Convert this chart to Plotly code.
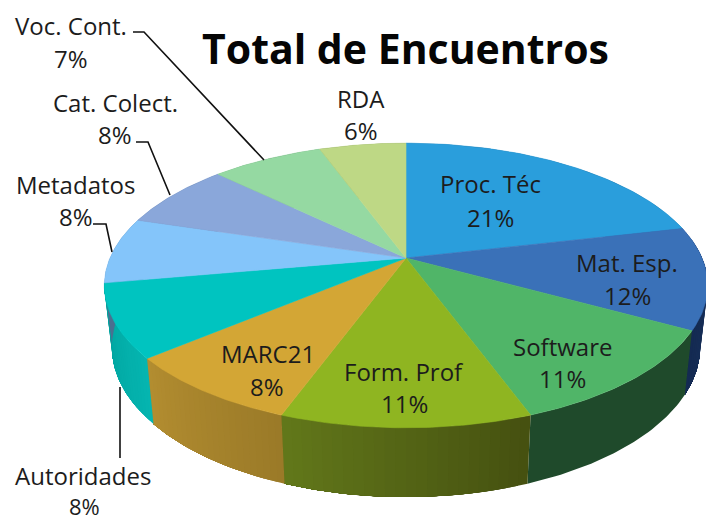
import math
import plotly.graph_objects as go

# ---- data
categories = ["Proc. Téc", "Mat. Esp.", "Software", "Form. Prof", "MARC21",
              "Autoridades", "Metadatos", "Cat. Colect.", "Voc. Cont.", "RDA"]
values = [21.4, 11.6, 11.4, 11.2, 8.3, 8.3, 7.5, 7.5, 7.2, 5.6]
pct_labels = ["21%", "12%", "11%", "11%", "8%", "8%", "8%", "8%", "7%", "6%"]

# ---- style
top_colors = ["#2a9edc", "#3a71b8", "#50b568", "#8fb521", "#d3a635",
              "#00c4c0", "#84c5fa", "#8aa7da", "#95d9a2", "#bed885"]
side_colors = [("#15577f", "#15577f"), ("#1a3560", "#142a52"), ("#1f4a2b", "#1f4a2b"),
               ("#455010", "#62781a"), ("#9b7a28", "#b28d30"),
               ("#05b5b0", "#00a29d"), ("#4a7090", "#4a7090"), ("#4a6080", "#4a6080"),
               ("#507a58", "#507a58"), ("#6a7a45", "#6a7a45")]
text_color = "#1c1c1c"
label_font = "Open Sans"

CX, CY, A, B, P = 406, 258, 296, 137, 0.193
DEPTH, Y_GROW, X_SHRINK = 60, 0.055, 0.975


def top_pt(theta):
    u, v = math.sin(theta), -math.cos(theta)
    w = 1 - P * v
    return CX + A * u / w, CY + B * v / w


def bottom_pt(theta):
    x, y = top_pt(theta)
    return CX + (x - CX) * X_SHRINK, y + DEPTH + Y_GROW * (y - CY)


def lerp_color(c0, c1, t):
    a = [int(c0[i:i + 2], 16) for i in (1, 3, 5)]
    b = [int(c1[i:i + 2], 16) for i in (1, 3, 5)]
    return "rgb(%d,%d,%d)" % tuple(round(p + (q - p) * t) for p, q in zip(a, b))


total = sum(values)
edges = [0.0]
for val in values:
    edges.append(edges[-1] + val / total * 2 * math.pi)

fig = go.Figure()

# sides first; each gradient band runs to the end of its slice and the next band
# paints over it, so no background shows between bands
for i, name in enumerate(categories):
    t0, t1 = edges[i], edges[i + 1]
    c0, c1 = side_colors[i]
    n = 24 if c0 != c1 else 1
    for k in range(n):
        a0 = t0 + (t1 - t0) * k / n
        m = 40
        ths = [a0 + (t1 - a0) * j / m for j in range(m + 1)]
        pts = [top_pt(t) for t in ths] + [bottom_pt(t) for t in reversed(ths)]
        col = lerp_color(c0, c1, (k + 0.5) / n)
        fig.add_trace(go.Scatter(x=[p[0] for p in pts] + [pts[0][0]],
                                 y=[p[1] for p in pts] + [pts[0][1]],
                                 mode="lines", fill="toself", fillcolor=col,
                                 line=dict(color=col, width=0),
                                 hoverinfo="skip", showlegend=False))

# top faces
for i, name in enumerate(categories):
    t0, t1 = edges[i], edges[i + 1]
    ths = [t0 + (t1 - t0) * j / 60 for j in range(61)]
    pts = [(CX, CY)] + [top_pt(t) for t in ths] + [(CX, CY)]
    fig.add_trace(go.Scatter(x=[p[0] for p in pts], y=[p[1] for p in pts],
                             mode="lines", fill="toself", fillcolor=top_colors[i],
                             line=dict(color=top_colors[i], width=0.6),
                             name=name, text=f"{name}: {pct_labels[i]}",
                             hoverinfo="text", showlegend=False))

# leader lines
leaders = [([133, 144, 264], [32, 32, 160]),
           ([136, 148, 170], [142, 142, 195]),
           ([93, 106, 112], [224, 224, 252]),
           ([120, 120], [387, 458])]
for lx, ly in leaders:
    fig.add_trace(go.Scatter(x=lx, y=ly, mode="lines", hoverinfo="skip", showlegend=False,
                             line=dict(color="#111111", width=1.6)))

# label positions: name xy, percent xy, percent font size
label_pos = {
    "Proc. Téc": (490, 183, 490, 217, 24),
    "Mat. Esp.": (627, 262, 627, 295, 24),
    "Software": (562, 346, 562, 378, 24),
    "Form. Prof": (404, 371, 404, 403, 24),
    "MARC21": (268, 353, 267, 386, 24),
    "Autoridades": (83, 475, 84, 506, 22),
    "Metadatos": (75, 184, 76, 216, 24),
    "Cat. Colect.": (115, 102, 115, 134, 24),
    "Voc. Cont.": (71, 25, 71, 58, 24),
    "RDA": (361, 98, 361, 130, 24),
}
annotations = []
for name, pct in zip(categories, pct_labels):
    nx, ny, px, py, psize = label_pos[name]
    for s, x, y, size in ((name, nx, ny, 24), (pct, px, py, psize)):
        annotations.append(dict(x=x, y=y, text=s, showarrow=False, xanchor="center",
                                yanchor="middle", borderpad=0,
                                font=dict(family=label_font, size=size, color=text_color)))
annotations.append(dict(x=405, y=48, text="<b>Total de Encuentros</b>", showarrow=False,
                        xanchor="center", yanchor="middle",
                        font=dict(family=label_font, size=41, color="#050505")))

fig.update_layout(
    width=706, height=521, autosize=False,
    margin=dict(l=0, r=0, t=0, b=0),
    paper_bgcolor="white", plot_bgcolor="white",
    xaxis=dict(range=[0, 706], visible=False, fixedrange=True),
    yaxis=dict(range=[521, 0], visible=False, fixedrange=True),
    annotations=annotations, showlegend=False,
)
fig.write_html("out.html", config={"displayModeBar": False},
               post_script="document.body.style.margin='0';document.documentElement.style.overflow='hidden';")
